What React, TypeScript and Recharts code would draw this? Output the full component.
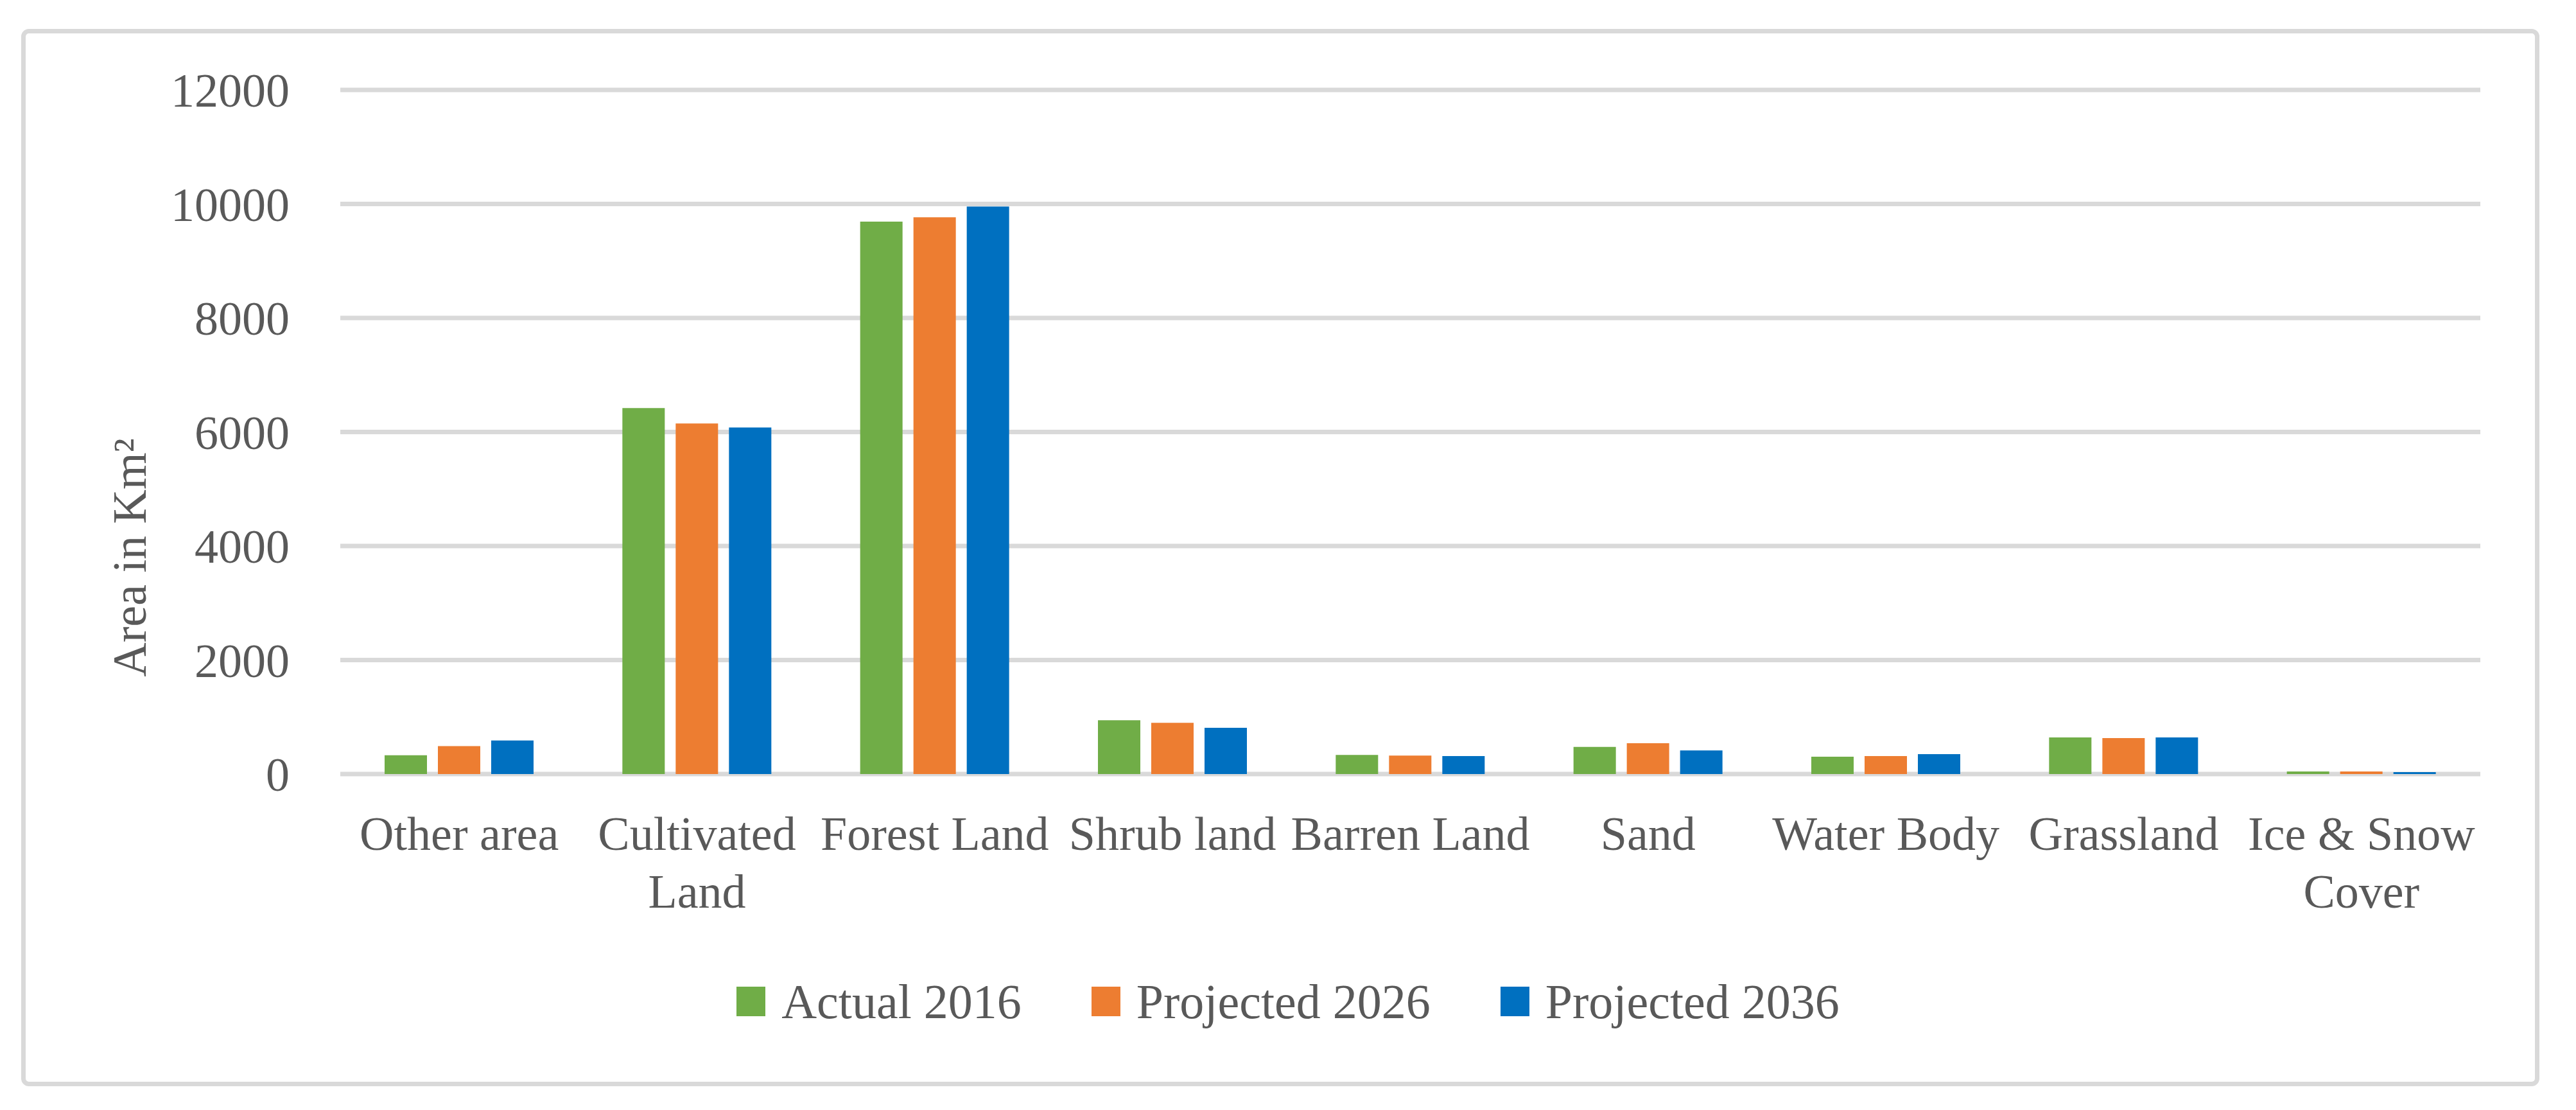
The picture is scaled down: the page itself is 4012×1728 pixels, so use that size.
import React from "react";
import {
  BarChart,
  Bar,
  XAxis,
  YAxis,
  CartesianGrid,
  Legend,
} from "recharts";

const categories = [
  "Other area",
  "Cultivated Land",
  "Forest Land",
  "Shrub land",
  "Barren Land",
  "Sand",
  "Water Body",
  "Grassland",
  "Ice & Snow Cover",
];

const actual2016 = [330, 6420, 9690, 945, 335, 475, 305, 642, 45];
const projected2026 = [490, 6150, 9765, 900, 325, 540, 315, 630, 45];
const projected2036 = [590, 6080, 9955, 810, 315, 415, 350, 642, 35];

const yTicks = [0, 2000, 4000, 6000, 8000, 10000, 12000];

const series = [
  { key: "Actual 2016", values: actual2016, color: "#70AD47" },
  { key: "Projected 2026", values: projected2026, color: "#ED7D31" },
  { key: "Projected 2036", values: projected2036, color: "#0070C0" },
];

const FONT = "'Liberation Serif', 'Times New Roman', serif";
const TEXT_COLOR = "#595959";
const GRID_COLOR = "#D9D9D9";

const data = categories.map((name, i) => {
  const row: Record<string, string | number> = { name };
  series.forEach((s) => {
    row[s.key] = s.values[i];
  });
  return row;
});

// long labels break before their last word, like Excel does in a narrow band
function wrapLabel(label: string): string[] {
  if (label.length <= 12) return [label];
  const cut = label.lastIndexOf(" ");
  return [label.slice(0, cut), label.slice(cut + 1)];
}

function CategoryTick(props: any) {
  const { x, y, payload } = props;
  const lines = wrapLabel(String(payload.value));
  return (
    <text
      x={x}
      y={y}
      textAnchor="middle"
      fontSize={74}
      fontFamily={FONT}
      fill={TEXT_COLOR}
    >
      {lines.map((line, i) => (
        <tspan key={i} x={x} dy={i === 0 ? 53 : 90}>
          {line}
        </tspan>
      ))}
    </text>
  );
}

function YTitle() {
  return (
    <text
      transform="translate(227,868) rotate(-90)"
      x={0}
      y={0}
      textAnchor="middle"
      fontSize={74}
      fontFamily={FONT}
      fill={TEXT_COLOR}
    >
      Area in Km²
    </text>
  );
}

function LegendContent(props: any) {
  const { payload } = props;
  return (
    <div
      style={{
        display: "flex",
        justifyContent: "center",
        alignItems: "center",
        height: 60,
        fontFamily: FONT,
        fontSize: 76,
        color: TEXT_COLOR,
      }}
    >
      {payload.map((item: any, i: number) => (
        <div
          key={item.value}
          style={{
            display: "flex",
            alignItems: "center",
            marginLeft: i === 0 ? 0 : 109,
            whiteSpace: "nowrap",
          }}
        >
          <span
            style={{
              display: "inline-block",
              width: 45,
              height: 46,
              background: item.color,
              marginRight: 25,
            }}
          />
          <span>{item.value}</span>
        </div>
      ))}
    </div>
  );
}

export default function App() {
  return (
    <div
      style={{
        position: "absolute",
        left: 0,
        top: 0,
        width: 4012,
        height: 1728,
        background: "#fff",
        overflow: "hidden",
      }}
    >
      <div
        style={{
          position: "absolute",
          left: 33,
          top: 45,
          width: 3922,
          height: 1646,
          boxSizing: "border-box",
          border: `7px solid ${GRID_COLOR}`,
          borderRadius: 12,
        }}
      />
      <div style={{ position: "absolute", left: 0, top: 0 }}>
        <BarChart
          width={4012}
          height={1728}
          data={data}
          margin={{ top: 140, right: 149, left: 0, bottom: 0 }}
          barSize={66}
          barGap={17}
        >
          <CartesianGrid
            vertical={false}
            stroke={GRID_COLOR}
            strokeWidth={7}
          />
          <XAxis
            dataKey="name"
            height={523}
            interval={0}
            axisLine={false}
            tickLine={false}
            tickSize={6}
            tickMargin={59}
            tick={<CategoryTick />}
          />
          <YAxis
            width={530}
            domain={[0, 12000]}
            ticks={yTicks}
            axisLine={false}
            tickLine={false}
            tickSize={6}
            tickMargin={73}
            tick={{ fontSize: 74, fontFamily: FONT, fill: TEXT_COLOR }}
            label={<YTitle />}
          />
          <Legend
            verticalAlign="middle"
            align="center"
            wrapperStyle={{ top: 1529, left: 0, width: 4012 }}
            content={<LegendContent />}
          />
          {series.map((s) => (
            <Bar
              key={s.key}
              dataKey={s.key}
              fill={s.color}
              isAnimationActive={false}
            />
          ))}
        </BarChart>
      </div>
    </div>
  );
}
